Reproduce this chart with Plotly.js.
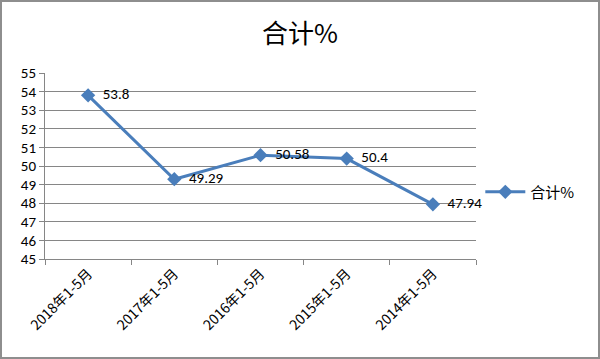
<!DOCTYPE html>
<html>
<head>
<meta charset="utf-8">
<script src="https://cdn.plot.ly/plotly-3.0.1.min.js"></script>
<style>
html,body{margin:0;padding:0;background:#fff;}
#wrap{position:relative;width:600px;height:359px;}
#chart{width:600px;height:359px;}
#frame{position:absolute;left:0;top:0;width:600px;height:359px;box-sizing:border-box;border:2px solid #8e8e8e;pointer-events:none;}
</style>
</head>
<body>
<div id="wrap"><div id="chart"></div><div id="frame"></div></div>
<script>
const categories = ["2018年1-5月","2017年1-5月","2016年1-5月","2015年1-5月","2014年1-5月"];
const values = [53.8, 49.29, 50.58, 50.4, 47.94];
const labels = ["53.8","49.29","50.58","50.4","47.94"];
const seriesName = "合计%";
const yTicks = [45,46,47,48,49,50,51,52,53,54,55];

const font = "Calibri, Carlito, 'Liberation Sans', 'Noto Sans CJK SC', sans-serif";
const trace = {
  x: categories, y: values, name: seriesName,
  type: 'scatter', mode: 'lines+markers+text',
  text: labels.map(s => '  ' + s), textposition: 'middle right',
  textfont: {family: font, size: 15, color: '#000'},
  line: {color: '#4A7EBB', width: 3},
  marker: {symbol: 'diamond', size: 11, color: '#4A7EBB'},
  cliponaxis: false
};
const layout = {
  width: 600, height: 359,
  margin: {l: 45, r: 124, t: 73, b: 100},
  paper_bgcolor: '#fff', plot_bgcolor: '#fff',
  title: {text: '合计%', x: 0.5, xanchor: 'center', xref: 'container', y: 0.93, yref: 'container',
          font: {family: "'Noto Sans CJK SC', sans-serif", size: 26, color: '#000'}},
  font: {family: font, color: '#000'},
  showlegend: true,
  legend: {x: 1.01, y: 0.36, xanchor: 'left', yanchor: 'middle', itemwidth: 40,
           font: {family: "'Noto Sans CJK SC', sans-serif", size: 15}, bgcolor: 'rgba(0,0,0,0)'},
  xaxis: {
    type: 'category', tickangle: -45, tickson: 'boundaries',
    ticks: 'outside', ticklen: 5, tickcolor: '#868686',
    showline: true, linecolor: '#868686', linewidth: 1,
    showgrid: false, tickfont: {size: 14, family: "'Noto Sans CJK SC', sans-serif"},
    range: [-0.5, 4.5], fixedrange: true
  },
  yaxis: {
    range: [45, 55], tickvals: yTicks, ticktext: yTicks.map(String),
    ticks: 'outside', ticklen: 5, tickcolor: '#868686',
    showline: true, linecolor: '#868686', linewidth: 1,
    showgrid: true, gridcolor: '#868686', gridwidth: 1,
    zeroline: false, tickfont: {size: 15}
  }
};
Plotly.newPlot('chart', [trace], layout, {displayModeBar: false, staticPlot: true});
</script>
</body>
</html>
